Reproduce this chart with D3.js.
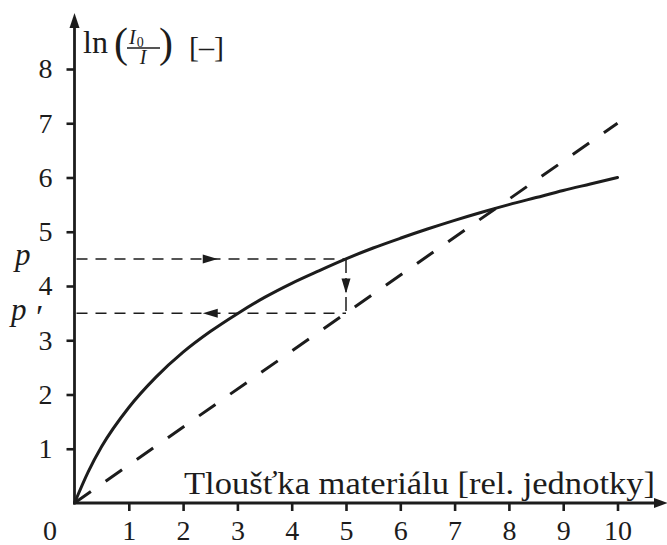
<!DOCTYPE html>
<html>
<head>
<meta charset="utf-8">
<script src="https://cdn.jsdelivr.net/npm/d3@7"></script>
<style>
  html, body { margin: 0; padding: 0; background: #fff; }
  svg { display: block; }
  text { font-family: "Liberation Serif", serif; fill: #1c1c1c; }
</style>
</head>
<body>
<svg id="chart" width="667" height="545"></svg>
<script>
// Material thickness (relative units) and measured attenuation ln(I0/I)
const thickness = [0, 0.25, 0.5, 1, 1.5, 2, 2.5, 3, 3.5, 4, 4.5, 5, 5.5, 6, 6.5, 7, 7.5, 8, 8.5, 9, 9.5, 10];
const attenuation = [0, 0.57, 1.04, 1.76, 2.32, 2.78, 3.16, 3.49, 3.79, 4.05, 4.28, 4.5, 4.7, 4.88, 5.05, 5.21, 5.36, 5.5, 5.63, 5.76, 5.88, 6.0];

// Ideal (monochromatic) linear attenuation
const idealThickness = [0, 10];
const idealAttenuation = [0, 7];

// Tick values and the read-off construction
const xTicks = [1, 2, 3, 4, 5, 6, 7, 8, 9, 10];
const yTicks = [1, 2, 3, 4, 5, 6, 7, 8];
const readThickness = 5;
const pValue = 4.5;
const pPrimeValue = 3.5;

const svg = d3.select("#chart");
const ink = "#1c1c1c";
const serif = '"Liberation Serif", serif';

const x = d3.scaleLinear().domain([0, 10]).range([74.5, 617.5]);
const y = d3.scaleLinear().domain([0, 8]).range([503, 69]);

// Axes: ticks and labels
const xAxis = svg.append("g")
  .attr("transform", `translate(0,${y(0)})`)
  .call(d3.axisBottom(x).tickValues(xTicks).tickSize(8).tickPadding(9).tickFormat(d3.format("d")));
const yAxis = svg.append("g")
  .attr("transform", `translate(${x(0)},0)`)
  .call(d3.axisLeft(y).tickValues(yTicks).tickSize(8).tickPadding(14).tickFormat(d3.format("d")));

[xAxis, yAxis].forEach(g => {
  g.attr("font-family", serif).attr("font-size", 28);
  g.select(".domain").remove();
  g.selectAll(".tick line").attr("stroke", ink).attr("stroke-width", 2.6);
  g.selectAll(".tick text").attr("fill", ink);
});

// Origin label
svg.append("text")
  .attr("x", 50).attr("y", y(0) + 17).attr("dy", "0.71em")
  .attr("text-anchor", "middle")
  .attr("font-size", 28)
  .text("0");

// Axis lines with arrowheads
svg.append("line")
  .attr("x1", x(0)).attr("y1", y(0) + 1.2)
  .attr("x2", x(0)).attr("y2", 24)
  .attr("stroke", ink).attr("stroke-width", 2.8);
svg.append("path")
  .attr("d", `M${x(0)},13 L${x(0) - 5},28 L${x(0) + 5},28 Z`)
  .attr("fill", ink);

svg.append("line")
  .attr("x1", x(0) - 1.4).attr("y1", y(0))
  .attr("x2", 658).attr("y2", y(0))
  .attr("stroke", ink).attr("stroke-width", 2.8);
svg.append("path")
  .attr("d", `M668,${y(0)} L654,${y(0) - 5} L654,${y(0) + 5} Z`)
  .attr("fill", ink);

// Axis titles
svg.append("text")
  .attr("x", 184).attr("y", 494)
  .attr("textLength", 471).attr("lengthAdjust", "spacingAndGlyphs")
  .attr("font-size", 31)
  .text("Tloušťka materiálu [rel. jednotky]");

const yTitle = svg.append("g");
yTitle.append("text").attr("x", 83).attr("y", 53).attr("font-size", 32).text("ln");
yTitle.append("text").attr("x", 114).attr("y", 57).attr("font-size", 42).text("(");
yTitle.append("text").attr("x", 129).attr("y", 44)
  .attr("font-size", 20).attr("font-style", "italic")
  .text("I")
  .append("tspan").attr("dy", 3).attr("dx", 1).attr("font-size", 14).attr("font-style", "normal").text("0");
yTitle.append("line")
  .attr("x1", 127).attr("x2", 160).attr("y1", 48).attr("y2", 48)
  .attr("stroke", ink).attr("stroke-width", 1.4);
yTitle.append("text").attr("x", 143).attr("y", 64)
  .attr("text-anchor", "middle")
  .attr("font-size", 20).attr("font-style", "italic").text("I");
yTitle.append("text").attr("x", 159).attr("y", 57).attr("font-size", 42).text(")");
yTitle.append("text").attr("x", 189).attr("y", 57).attr("font-size", 30).text("[–]");

// Read-off levels p and p'
svg.append("text").attr("x", 15).attr("y", y(pValue) + 6)
  .attr("font-size", 31).attr("font-style", "italic").text("p");
svg.append("text").attr("x", 11).attr("y", y(pPrimeValue) + 7)
  .attr("font-size", 31).attr("font-style", "italic").text("p");
svg.append("text").attr("x", 36).attr("y", y(pPrimeValue) + 15)
  .attr("font-size", 34).text("′");

const thin = { stroke: ink, width: 1.5, dash: "11,8" };

function hDashed(val, dir) {
  const x0 = x(0) + 2, x1 = x(readThickness), yy = y(val);
  svg.append("line")
    .attr("x1", x0).attr("x2", x1).attr("y1", yy).attr("y2", yy)
    .attr("stroke", thin.stroke).attr("stroke-width", thin.width)
    .attr("stroke-dasharray", thin.dash);
  const mx = (x(0) + x1) / 2;
  const tip = mx + dir * 7.5, base = mx - dir * 7.5;
  svg.append("path")
    .attr("d", `M${tip},${yy} L${base},${yy - 4.5} L${base},${yy + 4.5} Z`)
    .attr("fill", ink);
}
hDashed(pValue, 1);
hDashed(pPrimeValue, -1);

// Vertical drop from curve to the ideal line
const vx = x(readThickness);
svg.append("line")
  .attr("x1", vx).attr("x2", vx)
  .attr("y1", y(pValue)).attr("y2", y(pPrimeValue) - 2)
  .attr("stroke", ink).attr("stroke-width", thin.width)
  .attr("stroke-dasharray", "14,5");
const vm = (y(pValue) + y(pPrimeValue)) / 2;
svg.append("path")
  .attr("d", `M${vx},${vm + 7.5} L${vx - 4.5},${vm - 7.5} L${vx + 4.5},${vm - 7.5} Z`)
  .attr("fill", ink);

// Ideal linear line (dashed)
const line = d3.line().x(d => x(d[0])).y(d => y(d[1]));
svg.append("path")
  .datum(idealThickness.map((t, i) => [t, idealAttenuation[i]]))
  .attr("d", line)
  .attr("fill", "none").attr("stroke", ink).attr("stroke-width", 3)
  .attr("stroke-dasharray", "20,18");

// Measured curve
svg.append("path")
  .datum(thickness.map((t, i) => [t, attenuation[i]]))
  .attr("d", line.curve(d3.curveMonotoneX))
  .attr("fill", "none").attr("stroke", ink).attr("stroke-width", 3)
  .attr("stroke-linecap", "round");
</script>
</body>
</html>
